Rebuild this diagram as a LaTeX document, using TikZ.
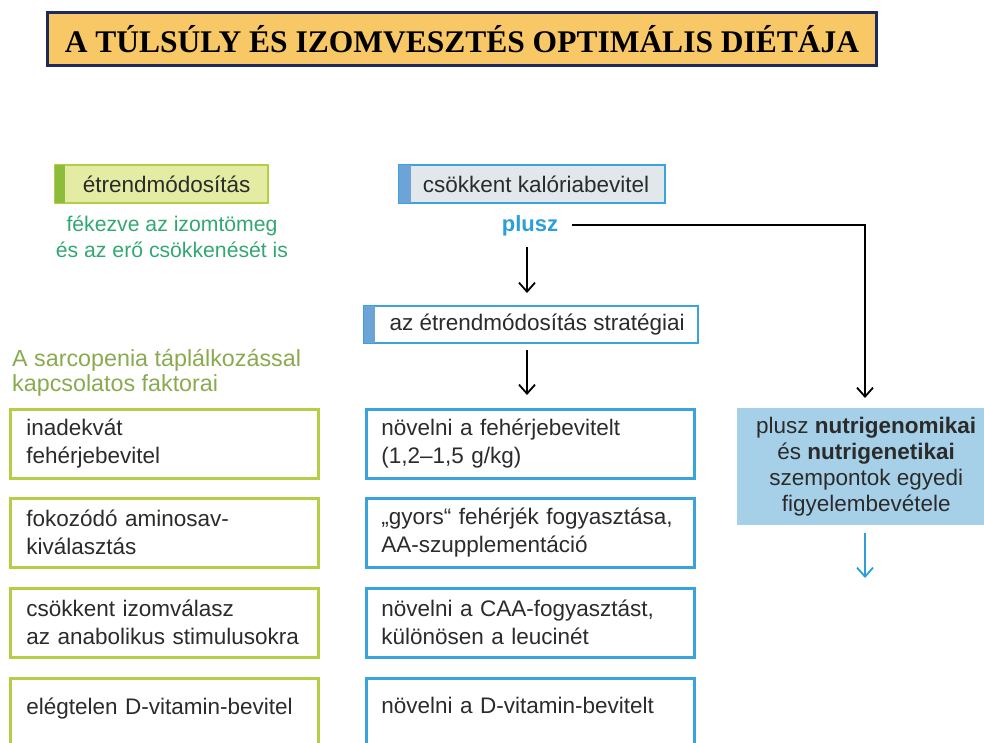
\documentclass[tikz,border=0pt]{standalone}
\usepackage{fontspec}
\setmainfont{Liberation Sans}
\newfontfamily\titlefont{Liberation Serif}
\usetikzlibrary{arrows.meta,calc}
\definecolor{titlefill}{HTML}{F8C866}
\definecolor{titledraw}{HTML}{1F2A5C}
\definecolor{gborder}{HTML}{B4CE45}
\definecolor{gfill}{HTML}{E4EBA2}
\definecolor{gbar}{HTML}{8DBB3A}
\definecolor{gtext}{HTML}{32A871}
\definecolor{otext}{HTML}{8AAA50}
\definecolor{bborder}{HTML}{3BA3DB}
\definecolor{bbar}{HTML}{6CA4D8}
\definecolor{grayfill}{HTML}{E1E7EB}
\definecolor{plusc}{HTML}{2C9ED8}
\definecolor{rfill}{HTML}{A6D0E7}
\definecolor{dtext}{HTML}{2B2B2B}
\tikzset{
  boxtext/.style={font=\fontsize{22.5}{28}\selectfont, text=dtext},
  lbox/.style={boxtext, draw=gborder, line width=2.6pt, rectangle, anchor=north west,
     minimum width=308pt, minimum height=69pt, text width=276pt, inner xsep=16pt, inner ysep=0pt, align=left},
  mbox/.style={lbox, draw=bborder, minimum width=328pt, text width=298pt, inner xsep=15pt},
  lastrow/.style={text depth=14pt},
  hbox/.style={boxtext, rectangle, line width=2.2pt, inner sep=0pt, anchor=north west},
  arr/.style={draw=black, line width=1.8pt, -{Straight Barb[length=9pt,width=16pt,line width=1.8pt]}},
  barr/.style={arr, draw=plusc, -{Straight Barb[length=9pt,width=16pt,line width=1.8pt,color=plusc]}},
}
\begin{document}
\begin{tikzpicture}[x=1pt,y=-1pt]
\useasboundingbox (0,0) rectangle (984,743);
\clip (0,0) rectangle (984,743);
% title
\node[draw=titledraw, fill=titlefill, line width=2.5pt, minimum width=829pt, minimum height=53pt, inner sep=0pt,
  font=\titlefont\bfseries\fontsize{31.5}{34}\selectfont, text=black] (title) at (462,39)
  {A TÚLSÚLY ÉS IZOMVESZTÉS OPTIMÁLIS DIÉTÁJA};
% header boxes
\node[hbox, draw=gborder, fill=gfill, minimum width=213pt, minimum height=38pt] (etr) at (54,164)
  {\hspace*{10pt}étrendmódosítás};
\fill[gbar] ([xshift=1.2pt,yshift=-1.2pt]etr.north west) rectangle ([xshift=11pt,yshift=1.2pt]etr.south west);
\node[font=\fontsize{21.2}{26}\selectfont, text=gtext, align=center] (fek) at (172,237)
  {fékezve az izomtömeg\\és az erő csökkenését is};
\node[hbox, draw=bborder, fill=grayfill, minimum width=266pt, minimum height=38pt] (cal) at (398,164)
  {\hspace*{8pt}csökkent kalóriabevitel};
\fill[bbar] ([xshift=1.1pt,yshift=-1.1pt]cal.north west) rectangle ([xshift=13pt,yshift=1.1pt]cal.south west);
\node[font=\bfseries\fontsize{22}{26}\selectfont, text=plusc, inner sep=2pt] (p) at (530,226) {plusz};
\node[hbox, draw=bborder, fill=white, minimum width=334pt, minimum height=37pt] (s) at (363,305)
  {\hspace*{12pt}az étrendmódosítás stratégiai};
\fill[bbar] ([xshift=1.1pt,yshift=-1.1pt]s.north west) rectangle ([xshift=12pt,yshift=1.1pt]s.south west);
\node[font=\fontsize{23.3}{25.5}\selectfont, text=otext, align=left, anchor=north west, inner sep=0pt] (sar) at (12,349)
  {A sarcopenia táplálkozással\\kapcsolatos faktorai};
% left column
\node[lbox] (l1) at (9,408) {inadekvát\\fehérjebevitel};
\node[lbox] (l2) at (9,497) {fokozódó aminosav-\\kiválasztás};
\node[lbox] (l3) at (9,587) {csökkent izomválasz\\az anabolikus stimulusokra};
\node[lbox, lastrow] (l4) at (9,677) {elégtelen D-vitamin-bevitel};
% middle column
\node[mbox] (m1) at (365,408) {növelni a fehérjebevitelt\\(1,2–1,5 g/kg)};
\node[mbox] (m2) at (365,497) {„gyors“ fehérjék fogyasztása,\\AA-szupplementáció};
\node[mbox] (m3) at (365,587) {növelni a CAA-fogyasztást,\\különösen a leucinét};
\node[mbox, lastrow] (m4) at (365,677) {növelni a D-vitamin-bevitelt};
% right box
\node[fill=rfill, minimum width=258pt, minimum height=117pt, anchor=north west, inner sep=0pt,
  font=\fontsize{22.5}{26}\selectfont, text=dtext, align=center] (r) at (737,408)
  {plusz \textbf{nutrigenomikai}\\és \textbf{nutrigenetikai}\\szempontok egyedi\\figyelembevétele};
\coordinate (rend) at (865,578);
\coordinate (a1s) at (527,247);
\coordinate (a1e) at (527,293);
\coordinate (a2s) at (527,350);
\coordinate (a2e) at (527,395);
% connectors
\draw[arr] (a1s) -- (a1e);
\draw[arr] (a2s) -- (a2e);
\draw[arr] ([xshift=12pt,yshift=1pt]p.east) -| ([yshift=10pt]r.north -| rend);
\draw[barr] ([yshift=-8pt]r.south -| rend) -- (rend);
\end{tikzpicture}
\end{document}
